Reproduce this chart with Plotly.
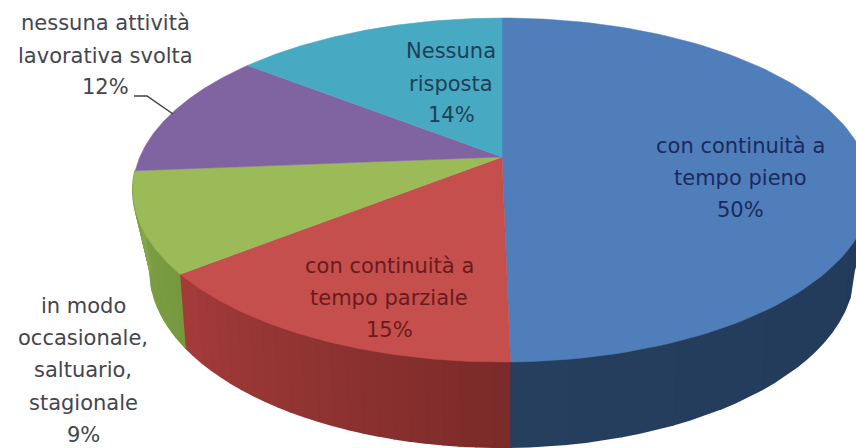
import numpy as np
import plotly.graph_objects as go

categories = ["con continuità a tempo pieno", "con continuità a tempo parziale",
              "in modo occasionale, saltuario, stagionale",
              "nessuna attività lavorativa svolta", "Nessuna risposta"]
values = [49.7, 14.6, 9.4, 11.9, 14.4]
label_lines = [["con continuità a", "tempo pieno"],
               ["con continuità a", "tempo parziale"],
               ["in modo", "occasionale,", "saltuario,", "stagionale"],
               ["nessuna attività", "lavorativa svolta"],
               ["Nessuna", "risposta"]]
top_colors = ["#4F7EBA", "#C54F4D", "#9BBB59", "#8064A2", "#48A9C3"]
wall_colors = [("#1F3552", "#263F5F"), ("#7B2B29", "#A53C3A"), ("#76983F", "#86A84A")]
text_colors = ["#1A2A5E", "#6A1A1C", "#45454E", "#45454E", "#1E3F58"]
label_x = [740, 389, 83, 105, 451]
label_y = [[146, 178, 210], [266, 298, 330], [306, 338, 370, 403, 435], [23, 56, 87], [51, 84, 115]]

AX, AY = 502, 157       # pie centre on the page
TILT_A, TILT_B, PERSP = 165.7, 362.2, 0.192
TOP_C = (502, 190, 369, 172)
BOT_C = (502, 270, 352, 177)
FONT = "DejaVu Sans"
SIZE = 21


def rim(theta):
    u, v = np.sin(theta), np.cos(theta)
    d = 1 + PERSP * v
    return AX + TILT_B * u / d, AY - TILT_A * v / d


def lower(x, y):
    c = (x - TOP_C[0]) / TOP_C[2]
    s = (y - TOP_C[1]) / TOP_C[3]
    c2 = np.clip(c * 1.03, -1, 1)
    s2 = np.sign(s) * np.sqrt(1 - c2 ** 2)
    return BOT_C[0] + BOT_C[2] * c2, BOT_C[1] + BOT_C[3] * s2


def mix(a, b, t):
    ca = [int(a[i:i + 2], 16) for i in (1, 3, 5)]
    cb = [int(b[i:i + 2], 16) for i in (1, 3, 5)]
    return "rgb(%d,%d,%d)" % tuple(round(p + (q - p) * t) for p, q in zip(ca, cb))


fig = go.Figure()
edges = np.concatenate([[0], np.cumsum(values)]) / np.sum(values) * 2 * np.pi

# side walls (only the three front slices show one)
for i in range(len(wall_colors)):
    n = 24
    th = np.linspace(edges[i], edges[i + 1], n + 1)
    for j in range(n):
        tx, ty = rim(np.linspace(th[j], th[j + 1], 4))
        bx, by = lower(tx, ty)
        keep = ty > TOP_C[1] - 20
        if keep.sum() < 2:
            continue
        fig.add_trace(go.Scatter(
            x=np.concatenate([tx[keep], bx[keep][::-1]]), y=np.concatenate([ty[keep], by[keep][::-1]]),
            mode="lines", fill="toself", line=dict(width=2, color=mix(*wall_colors[i], j / n)),
            fillcolor=mix(*wall_colors[i], j / n), hoverinfo="skip", showlegend=False))

# top face
for i in range(len(values)):
    px, py = rim(np.linspace(edges[i], edges[i + 1], 120))
    fig.add_trace(go.Scatter(
        x=np.concatenate([[AX], px, [AX]]), y=np.concatenate([[AY], py, [AY]]),
        mode="lines", fill="toself", line=dict(width=0.5, color=top_colors[i]),
        fillcolor=top_colors[i], name=categories[i], text=categories[i],
        hoverinfo="text", showlegend=False))

# leader line of the purple label
fig.add_trace(go.Scatter(x=[134, 147, 173], y=[96, 96, 114], mode="lines",
                         line=dict(color="#404040", width=1.5), hoverinfo="skip", showlegend=False))

# labels
for i in range(len(values)):
    lines = label_lines[i] + ["%d%%" % round(values[i])]
    for text, y in zip(lines, label_y[i]):
        fig.add_annotation(x=label_x[i], y=y, text=text, showarrow=False, xanchor="center",
                           yanchor="middle", font=dict(family=FONT, size=SIZE, color=text_colors[i]))

fig.update_layout(
    width=856, height=448, margin=dict(l=0, r=0, t=0, b=0),
    paper_bgcolor="white", plot_bgcolor="white",
    xaxis=dict(range=[0, 856], visible=False, fixedrange=True),
    yaxis=dict(range=[448, 0], visible=False, fixedrange=True))
fig.write_html("out.html", config={"displayModeBar": False},
               post_script="document.body.style.margin='0';")
